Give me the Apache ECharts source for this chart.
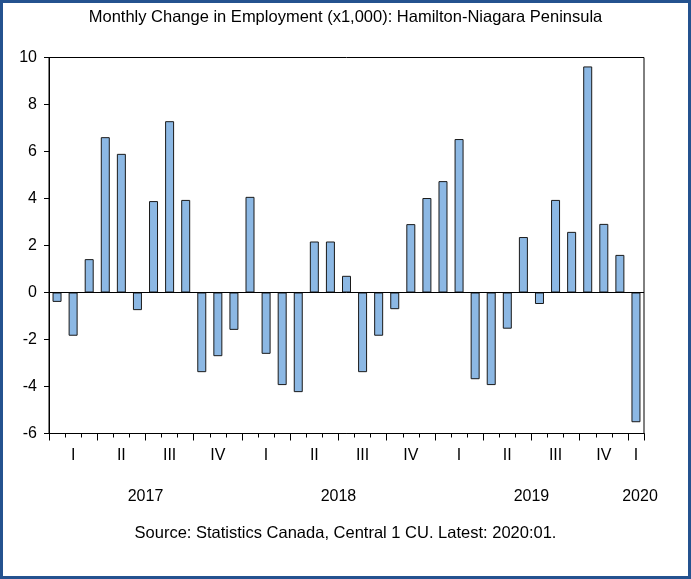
<!DOCTYPE html>
<html>
<head>
<meta charset="utf-8">
<title>Monthly Change in Employment: Hamilton-Niagara Peninsula</title>
<script src="https://cdn.jsdelivr.net/npm/echarts@6/dist/echarts.min.js"></script>
<style>
  html, body { margin: 0; padding: 0; background: #fff; }
  #chart { width: 691px; height: 579px; }
</style>
</head>
<body>
<div id="chart"></div>
<script>
// Months Jan 2017 .. Jan 2020
const months = [
  '2017-01','2017-02','2017-03','2017-04','2017-05','2017-06',
  '2017-07','2017-08','2017-09','2017-10','2017-11','2017-12',
  '2018-01','2018-02','2018-03','2018-04','2018-05','2018-06',
  '2018-07','2018-08','2018-09','2018-10','2018-11','2018-12',
  '2019-01','2019-02','2019-03','2019-04','2019-05','2019-06',
  '2019-07','2019-08','2019-09','2019-10','2019-11','2019-12',
  '2020-01'
];

// Monthly change in employment, thousands
const employmentChange = [
  -0.4, -1.84, 1.42, 6.61, 5.9, -0.75,
  3.89, 7.29, 3.94, -3.39, -2.71, -1.59,
  4.07, -2.61, -3.94, -4.24, 2.17, 2.17,
  0.71, -3.39, -1.84, -0.71, 2.91, 4.02,
  4.74, 6.53, -3.69, -3.94, -1.54, 2.36,
  -0.49, 3.94, 2.58, 9.62, 2.92, 1.6,
  -5.52
];

const quarterNames = ['I', 'II', 'III', 'IV'];
const yearLabels = ['2017', '2018', '2019', '2020'];
// position of each year label along the month scale (month units)
const yearLabelPos = [6, 18, 30, 36.75];

const FONT = '"Liberation Sans", Arial, sans-serif';

function quarterLabel(i) {
  const m = parseInt(months[i].slice(5), 10) - 1;
  const q = Math.floor(m / 3);
  const last = i === months.length - 1;
  // label the middle month of each quarter; a lone trailing month gets its own label
  if (m % 3 === 1 || (last && m % 3 === 0)) return quarterNames[q];
  return '';
}

const chart = echarts.init(document.getElementById('chart'), null, { renderer: 'canvas' });

chart.setOption({
  animation: false,
  backgroundColor: '#ffffff',
  title: {
    text: 'Monthly Change in Employment (x1,000): Hamilton-Niagara Peninsula',
    left: 'center',
    top: 9,
    padding: 0,
    textStyle: { fontFamily: FONT, fontSize: 16.5, fontWeight: 'normal', color: '#000' }
  },
  graphic: [
    {
      type: 'rect',
      shape: { x: 1.5, y: 1.5, width: 688, height: 576 },
      style: { fill: 'none', stroke: '#24528f', lineWidth: 3 },
      silent: true
    },
    {
      type: 'text',
      left: 'center',
      top: 525,
      style: {
        text: 'Source: Statistics Canada, Central 1 CU. Latest: 2020:01.',
        font: '16.5px ' + FONT,
        fill: '#000'
      }
    }
  ],
  grid: {
    left: 49, right: 47, top: 57.5, bottom: 145.5,
    show: true, borderColor: '#000', borderWidth: 1
  },
  xAxis: [
    {
      type: 'category',
      data: months,
      boundaryGap: true,
      axisLine: { onZero: false, lineStyle: { color: '#000', width: 1 } },
      axisTick: { show: true, interval: 0, length: 4, lineStyle: { color: '#000' } },
      axisLabel: {
        interval: 0,
        margin: 14,
        fontFamily: FONT, fontSize: 16, color: '#000',
        formatter: (v, i) => quarterLabel(i)
      },
      splitLine: { show: false }
    },
    {
      // longer ticks at quarter boundaries
      type: 'category',
      data: months,
      position: 'bottom',
      boundaryGap: true,
      axisLine: { show: false, onZero: false },
      axisTick: { show: true, length: 7, interval: (i) => i % 3 === 0, lineStyle: { color: '#000' } },
      axisLabel: { show: false },
      splitLine: { show: false }
    },
    {
      // year labels
      type: 'value',
      position: 'bottom',
      min: 0, max: months.length, interval: 0.25,
      axisLine: { show: false, onZero: false },
      axisTick: { show: false },
      splitLine: { show: false },
      axisLabel: {
        margin: 55,
        showMinLabel: true, showMaxLabel: true,
        fontFamily: FONT, fontSize: 16, color: '#000',
        formatter: (v) => {
          const k = yearLabelPos.indexOf(v);
          return k >= 0 ? yearLabels[k] : '';
        }
      }
    }
  ],
  yAxis: {
    type: 'value',
    min: -6, max: 10, interval: 2,
    axisLine: { show: true, lineStyle: { color: '#000' } },
    axisTick: { show: true, length: 5, lineStyle: { color: '#000' } },
    axisLabel: { margin: 12, fontFamily: FONT, fontSize: 16, color: '#000' },
    splitLine: { show: false }
  },
  series: [
    {
      type: 'bar',
      xAxisIndex: 0,
      data: employmentChange,
      barWidth: 9,
      itemStyle: { color: '#8cb8e4', borderColor: '#1a1a1a', borderWidth: 1 },
      markLine: {
        silent: true,
        symbol: 'none',
        label: { show: false },
        lineStyle: { color: '#000', width: 1, type: 'solid' },
        data: [{ yAxis: 0 }]
      }
    }
  ]
});
</script>
</body>
</html>
